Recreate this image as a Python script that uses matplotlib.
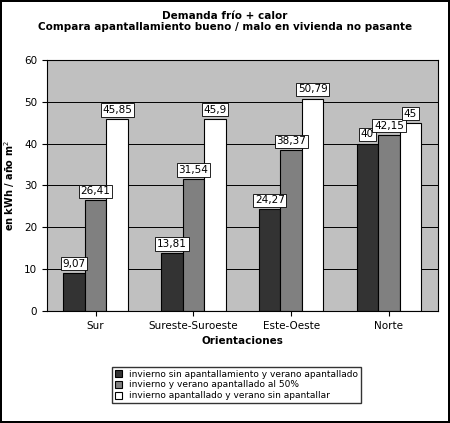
import matplotlib
matplotlib.use("Agg")
import matplotlib.pyplot as plt
import numpy as np

categories = ["Sur", "Sureste-Suroeste", "Este-Oeste", "Norte"]
s1 = [9.07, 13.81, 24.27, 40]
s2 = [26.41, 31.54, 38.37, 42.15]
s3 = [45.85, 45.9, 50.79, 45]
lab1 = ["9,07", "13,81", "24,27", "40"]
lab2 = ["26,41", "31,54", "38,37", "42,15"]
lab3 = ["45,85", "45,9", "50,79", "45"]
names = ["invierno sin apantallamiento y verano apantallado",
         "invierno y verano apantallado al 50%",
         "invierno apantallado y verano sin apantallar"]

fig = plt.figure(figsize=(4.5, 4.23), dpi=100)
fig.patch.set_edgecolor("black"); fig.patch.set_linewidth(1.5)
ax = fig.add_axes([0.104, 0.265, 0.869, 0.593])
ax.set_facecolor("#c0c0c0")
x = np.arange(len(categories))
w = 0.22
cols = ["#333333", "#808080", "white"]
for i, (vals, labs) in enumerate([(s1, lab1), (s2, lab2), (s3, lab3)]):
    bars = ax.bar(x + (i - 1) * w, vals, w, color=cols[i], edgecolor="black", linewidth=0.8, label=names[i])
    for b, l in zip(bars, labs):
        ax.text(b.get_x() + b.get_width() / 2, b.get_height() + 1, l, ha="center", va="bottom",
                fontsize=7.5, bbox=dict(facecolor="white", edgecolor="black", linewidth=0.6, pad=1.2))
ax.set_ylim(0, 60)
ax.set_xlim(-0.5, 3.5)
ax.set_yticks(range(0, 61, 10))
ax.yaxis.grid(True, color="black", linewidth=0.7)
ax.set_axisbelow(True)
ax.set_xticks(x)
ax.set_xticklabels(categories, fontsize=7.5)
ax.tick_params(axis="y", labelsize=7.5)
ax.set_xlabel("Orientaciones", fontsize=7.5, fontweight="bold")
ax.set_ylabel("Demanda frío+calor\nen kWh / año m$^2$", fontsize=7, fontweight="bold", labelpad=3)
ax.yaxis.set_label_coords(-0.075, 0.5)
fig.suptitle("Demanda frío + calor\nCompara apantallamiento bueno / malo en vivienda no pasante",
             fontsize=7.5, fontweight="bold", y=0.975)
leg = fig.legend(loc="center", bbox_to_anchor=(0.525, 0.09), fontsize=6.5, frameon=True,
                 fancybox=False, edgecolor="black", handlelength=0.8, handleheight=0.8,
                 borderpad=0.3, labelspacing=0.2)
fig.savefig("out.png", dpi=100, edgecolor=fig.get_edgecolor())
